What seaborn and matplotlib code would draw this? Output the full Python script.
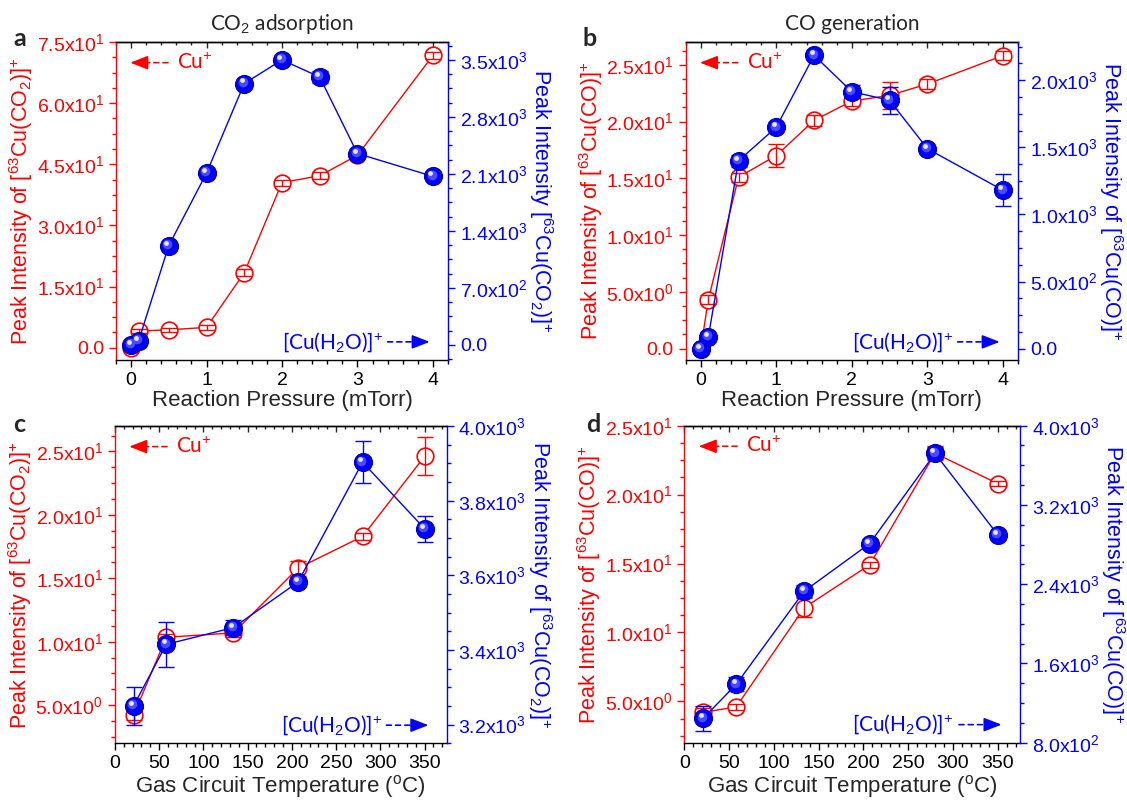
import numpy as np
import matplotlib
matplotlib.use('Agg')
import matplotlib.pyplot as plt
import seaborn as sns
from matplotlib.ticker import MultipleLocator, AutoMinorLocator, FuncFormatter, NullFormatter
from matplotlib.transforms import offset_copy

# ---- data ----
pressure = [0, 0.1, 0.5, 1, 1.5, 2, 2.5, 3, 4]
temperature = [21, 58, 134, 207, 280, 350]

# a: CO2 adsorption vs pressure
a_cu_co2 = [0, 4.1, 4.4, 5.0, 18.4, 40.5, 42.2, 47.2, 71.7]
a_cu_co2_err = [0.1, 0.6, 0.5, 0.6, 0.8, 0.7, 0.8, 0.6, 0.8]
a_cu_h2o = [0, 50, 1220, 2110, 3210, 3500, 3290, 2350, 2070]
a_cu_h2o_err = [10, 20, 30, 30, 40, 30, 70, 40, 30]

# b: CO generation vs pressure
b_cu_co = [0, 4.3, 15.1, 17.0, 20.1, 21.8, 22.3, 23.3, 25.8]
b_cu_co_err = [0.1, 0.4, 0.4, 1.05, 0.5, 0.4, 1.2, 0.4, 0.4]
b_cu_h2o = [0, 88, 1400, 1650, 2185, 1915, 1850, 1490, 1180]
b_cu_h2o_err = [10, 20, 45, 30, 30, 50, 100, 30, 120]

# c: CO2 adsorption vs temperature
c_cu_co2 = [4.2, 10.35, 10.7, 15.8, 18.3, 24.6]
c_cu_co2_err = [0.4, 0.3, 0.3, 0.6, 0.3, 1.5]
c_cu_h2o = [3250, 3415, 3460, 3582, 3903, 3725]
c_cu_h2o_err = [50, 60, 20, 10, 57, 35]

# d: CO generation vs temperature
d_cu_co = [4.2, 4.6, 11.8, 14.9, 23.0, 20.8]
d_cu_co_err = [0.3, 0.2, 0.7, 0.2, 0.5, 0.2]
d_cu_h2o = [1045, 1390, 2330, 2810, 3720, 2900]
d_cu_h2o_err = [125, 70, 60, 30, 60, 35]

RED = '#ff0000'
BLUE = '#0000ff'

sns.set_theme(style='ticks')
plt.rcParams['font.family'] = ['Liberation Sans', 'DejaVu Sans']
plt.rcParams['mathtext.fontset'] = 'custom'
plt.rcParams['mathtext.rm'] = 'Liberation Sans'
plt.rcParams['mathtext.it'] = 'Liberation Sans:italic'
plt.rcParams['mathtext.bf'] = 'Liberation Sans:bold'
plt.rcParams['axes.linewidth'] = 1.0


def sci(v, pos):
    if abs(v) < 1e-9:
        return '0.0'
    e = int(np.floor(np.log10(abs(v)) + 1e-9))
    m = v / 10 ** e
    return f'{m:.1f}x10$^{{{e}}}$'


def panel(rect, x, red, red_err, blue, blue_err, xlim, xmaj, xmin_n,
          ylim1, ymaj1, ylim2, ymaj2, ylab1, ylab2, xlab):
    ax = fig.add_axes(rect)
    ax2 = ax.twinx()

    sns.lineplot(x=x, y=red, ax=ax, color=RED, lw=1, marker='o', ms=12,
                 mfc='white', mec=RED, mew=1.2, errorbar=None, sort=False)
    ax.errorbar(x, red, yerr=red_err, fmt='none', ecolor=RED, elinewidth=1,
                capsize=6, capthick=1, zorder=3)

    sns.lineplot(x=x, y=blue, ax=ax2, color=BLUE, lw=1, marker='o', ms=13,
                 mfc=BLUE, mec='#0000b0', mew=0.8, errorbar=None, sort=False)
    ax2.errorbar(x, blue, yerr=blue_err, fmt='none', ecolor=BLUE, elinewidth=1,
                 capsize=6, capthick=1, zorder=3)
    # sphere shading
    t1 = offset_copy(ax2.transData, fig=fig, x=-1, y=1.2, units='points')
    t2 = offset_copy(ax2.transData, fig=fig, x=-1.8, y=2.2, units='points')
    ax2.plot(x, blue, ls='none', marker='o', ms=7, mfc='#4a4aff', mew=0,
             transform=t1, zorder=4)
    ax2.plot(x, blue, ls='none', marker='o', ms=3.5, mfc='#e6e6ff', mew=0,
             transform=t2, zorder=5)

    ax.set_xlim(*xlim)
    ax.set_ylim(*ylim1)
    ax2.set_ylim(*ylim2)
    ax.xaxis.set_major_locator(MultipleLocator(xmaj))
    ax.xaxis.set_minor_locator(AutoMinorLocator(xmin_n))
    ax.yaxis.set_major_locator(MultipleLocator(ymaj1))
    ax.yaxis.set_minor_locator(AutoMinorLocator(4))
    ax2.yaxis.set_major_locator(MultipleLocator(ymaj2))
    ax2.yaxis.set_minor_locator(AutoMinorLocator(4))
    ax.yaxis.set_major_formatter(FuncFormatter(sci))
    ax2.yaxis.set_major_formatter(FuncFormatter(sci))

    ax.tick_params(axis='x', which='both', labelsize=14, colors='black')
    ax.tick_params(axis='x', which='major', direction='out', length=5, width=1)
    ax.tick_params(axis='x', which='minor', direction='out', length=3, width=1)
    ax.tick_params(axis='y', which='major', colors=RED, labelsize=14, length=5, width=1)
    ax.tick_params(axis='y', which='minor', colors=RED, length=3, width=1)
    ax2.tick_params(axis='y', which='major', colors=BLUE, labelsize=14, length=5, width=1)
    ax2.tick_params(axis='y', which='minor', colors=BLUE, length=3, width=1)

    # inward ticks along the top spine
    top = ax.secondary_xaxis('top')
    top.xaxis.set_major_locator(MultipleLocator(xmaj))
    top.xaxis.set_minor_locator(AutoMinorLocator(xmin_n))
    top.xaxis.set_major_formatter(NullFormatter())
    top.tick_params(which='major', direction='in', length=4, width=1)
    top.tick_params(which='minor', direction='in', length=2.5, width=1)
    top.spines['top'].set_color('black')

    ax.spines['left'].set_color(RED)
    ax.spines['right'].set_visible(False)
    ax2.spines['left'].set_visible(False)
    ax2.spines['right'].set_color(BLUE)
    for s in ('top', 'bottom'):
        ax.spines[s].set_color('black')
        ax2.spines[s].set_visible(False)

    ax.set_xlabel(xlab, fontsize=16, labelpad=1)
    ax.set_ylabel(ylab1, fontsize=15.5, color=RED, labelpad=1)
    ax2.set_ylabel(ylab2, fontsize=15.5, color=BLUE, rotation=270, labelpad=20)

    # "Cu+" marker, top left
    ax.annotate('', xy=(0.075, 0.935), xytext=(0.165, 0.935), xycoords='axes fraction',
                arrowprops=dict(arrowstyle='-', color=RED, lw=1.2, ls=(0, (3, 2.5))))
    ax.annotate('', xy=(0.043, 0.935), xytext=(0.085, 0.935), xycoords='axes fraction',
                arrowprops=dict(arrowstyle='-|>,head_length=0.9,head_width=0.35',
                                color=RED, lw=1.2, shrinkA=0, shrinkB=0))
    ax.text(0.185, 0.935, 'Cu$^{+}$', transform=ax.transAxes, color=RED,
            fontsize=15, family='Lato', va='center', ha='left')

    # "[Cu(H2O)]+" marker, bottom right
    ax.text(0.5, 0.057, '[Cu(H$_2$O)]$^{+}$', transform=ax.transAxes, color=BLUE,
            fontsize=15, family='Lato', va='center', ha='left')
    ax.annotate('', xy=(0.905, 0.057), xytext=(0.81, 0.057), xycoords='axes fraction',
                arrowprops=dict(arrowstyle='-', color=BLUE, lw=1.2, ls=(0, (3, 2.5))))
    ax.annotate('', xy=(0.945, 0.057), xytext=(0.895, 0.057), xycoords='axes fraction',
                arrowprops=dict(arrowstyle='-|>,head_length=0.9,head_width=0.35',
                                color=BLUE, lw=1.2, shrinkA=0, shrinkB=0))
    return ax, ax2


fig = plt.figure(figsize=(11.27, 8), dpi=100)

lab_co2 = 'Peak Intensity of [$^{63}$Cu(CO$_2$)]$^{+}$'
lab_co = 'Peak Intensity of [$^{63}$Cu(CO)]$^{+}$'
xlab_p = 'Reaction Pressure (mTorr)'
xlab_t = 'Gas Circuit Temperature ($^{\\rm o}$C)'

axa, _ = panel([0.1029, 0.55, 0.2946, 0.3975], pressure, a_cu_co2, a_cu_co2_err,
               a_cu_h2o, a_cu_h2o_err, (-0.2, 4.2), 1, 5,
               (-3, 75), 15, (-185, 3720), 700,
               lab_co2, 'Peak Intensity [$^{63}$Cu(CO$_2$)]$^{+}$', xlab_p)
axb, _ = panel([0.6084, 0.55, 0.2949, 0.3975], pressure, b_cu_co, b_cu_co_err,
               b_cu_h2o, b_cu_h2o_err, (-0.2, 4.2), 1, 5,
               (-1, 27), 5, (-85, 2285), 500,
               lab_co, lab_co, xlab_p)
axc, _ = panel([0.102, 0.0709, 0.2943, 0.3966], temperature, c_cu_co2, c_cu_co2_err,
               c_cu_h2o, c_cu_h2o_err, (0, 375), 50, 5,
               (2, 27), 5, (3150, 4000), 200,
               lab_co2, lab_co2, xlab_t)
axd, _ = panel([0.6072, 0.0716, 0.2979, 0.3963], temperature, d_cu_co, d_cu_co_err,
               d_cu_h2o, d_cu_h2o_err, (0, 375), 50, 5,
               (2, 25), 5, (800, 4000), 800,
               lab_co, lab_co, xlab_t)

axa.set_title('CO$_2$ adsorption', fontsize=15, family='Lato', pad=9)
axb.set_title('CO generation', fontsize=15, family='Lato', pad=9)

for lbl, xx, yy in [('a', 0.012, 0.952), ('b', 0.517, 0.952),
                    ('c', 0.012, 0.469), ('d', 0.520, 0.469)]:
    fig.text(xx, yy, lbl, fontsize=18, fontweight='bold', family='Lato',
             va='center', ha='left')

fig.savefig('out.png', dpi=100)
